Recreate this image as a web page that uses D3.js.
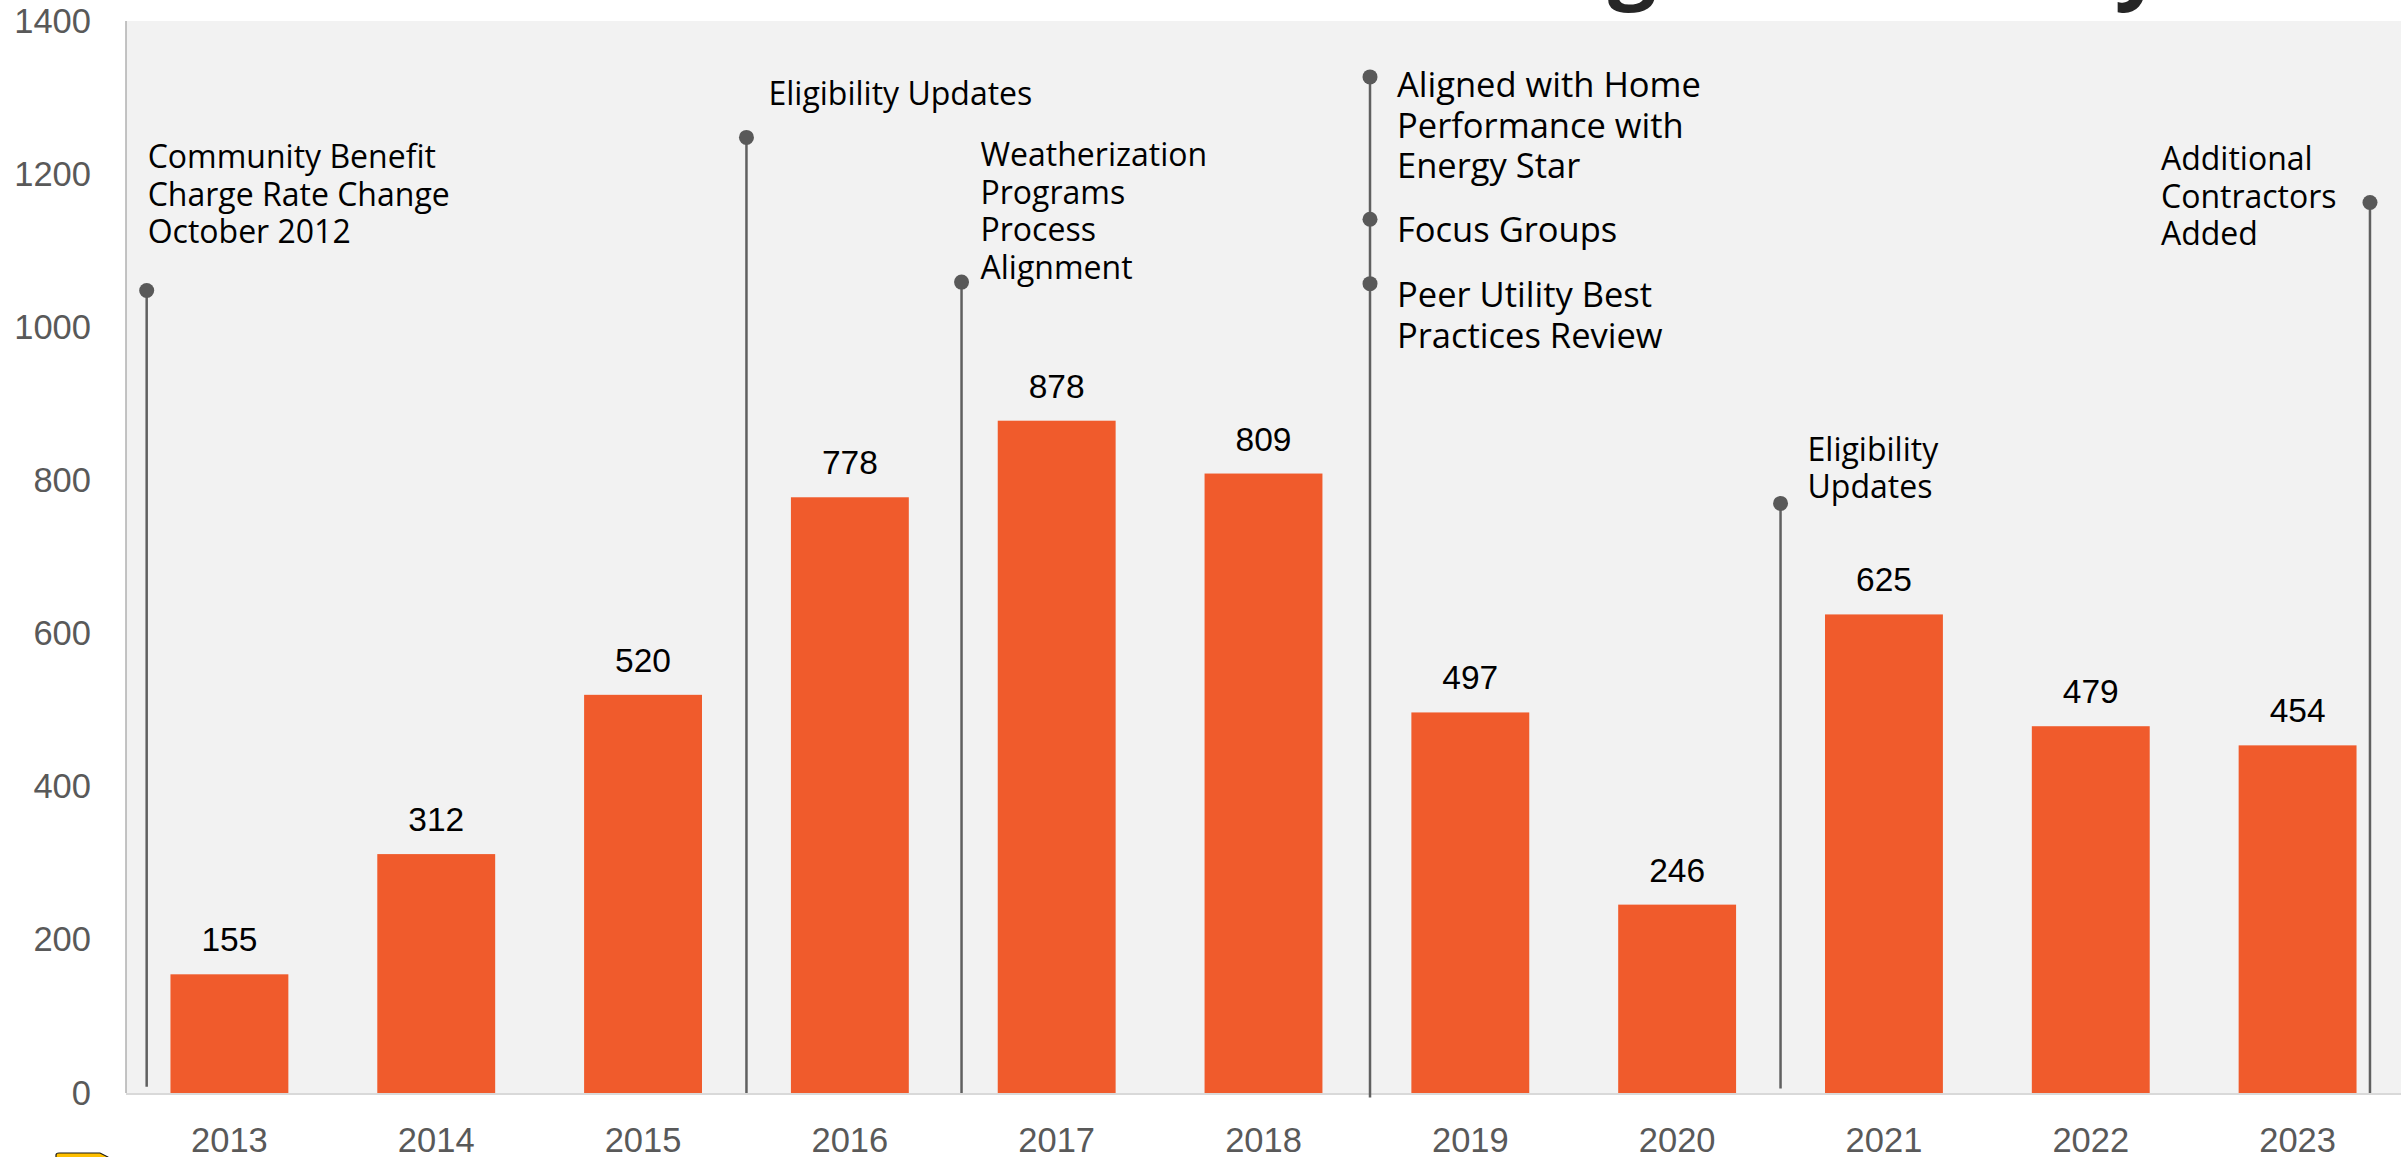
<!DOCTYPE html>
<html>
<head>
<meta charset="utf-8">
<script src="https://cdn.jsdelivr.net/npm/d3@7"></script>
<style>
  body { margin: 0; background: #fff; }
  svg { display: block; }
</style>
</head>
<body>
<div id="chart"></div>
<script>
// data
var years = ["2013", "2014", "2015", "2016", "2017", "2018", "2019", "2020", "2021", "2022", "2023"];
var counts = [155, 312, 520, 778, 878, 809, 497, 246, 625, 479, 454];
var yTicks = [0, 200, 400, 600, 800, 1000, 1200, 1400];
var title = "Weatherization Assistance Program History";

// timeline markers: position in category units, line bottom and top (y values)
var markerPos = [0.10, 3.0, 4.04, 6.015, 8.0, 10.85];
var markerBase = [8, 0, 0, -6, 6, 0];
var markerTop = [1048, 1248, 1059, 1327, 770, 1163];

// notes hung on the markers
var noteMarker = [0, 1, 2, 3, 3, 3, 4, 5];
var noteDot = [1048, 1248, 1059, 1327, 1141, 1057, 770, 1163];
var noteAt = [1208, 1290, 1210, 1301, 1111, 1026, 826, 1205];
var noteText = [
  ["Community Benefit", "Charge Rate Change", "October 2012"],
  ["Eligibility Updates"],
  ["Weatherization", "Programs", "Process", "Alignment"],
  ["Aligned with Home", "Performance with", "Energy Star"],
  ["Focus Groups"],
  ["Peer Utility Best", "Practices Review"],
  ["Eligibility", "Updates"],
  ["Additional", "Contractors", "Added"]
];
var noteDx = [1, 22, 19, 27, 27, 27, 27, -209];
var noteBig = [false, false, false, true, true, true, false, false];

var W = 2407, H = 1157;
var plot = { left: 126, right: 2401, top: 21, bottom: 1093 };
var axisFont = "'Liberation Sans', Arial, sans-serif";
var noteFont = "'Open Sans', sans-serif";

var svg = d3.select("#chart").append("svg")
    .attr("width", W)
    .attr("height", H);

// title, cut off by the top edge like in the slide: only the
// descenders of "g" and "y" show, so size it to hit those spots
var titleText = svg.append("text")
    .attr("x", 0)
    .attr("y", -200)
    .style("font-family", noteFont)
    .style("font-weight", "bold")
    .style("font-size", "100px")
    .style("fill", "#262626")
    .text(title);
var gi = title.indexOf("g"), yi = title.lastIndexOf("y");
function charMid(k) {
    var b = titleText.node().getExtentOfChar(k);
    return b.x + b.width / 2;
}
var fs = 100 * 507 / (charMid(yi) - charMid(gi));
titleText.style("font-size", fs + "px");
titleText
    .attr("x", 1632 - charMid(gi))
    .attr("y", 13 - 0.245 * fs);

var x = d3.scaleBand()
    .domain(years)
    .range([plot.left, plot.right])
    .paddingInner(0.43)
    .paddingOuter(0.215);

var xPos = d3.scaleLinear()
    .domain([0, years.length])
    .range([plot.left, plot.right]);

var y = d3.scaleLinear()
    .domain([0, 1400])
    .range([plot.bottom, plot.top]);

svg.insert("rect", "text")
    .attr("x", plot.left)
    .attr("y", plot.top)
    .attr("width", plot.right - plot.left)
    .attr("height", plot.bottom - plot.top)
    .attr("fill", "#f2f2f2");

// y axis labels
var yAxis = svg.append("g")
    .attr("transform", "translate(" + plot.left + ",0)")
    .call(d3.axisLeft(y).tickValues(yTicks).tickFormat(d3.format("d")).tickSize(0).tickPadding(35));
yAxis.select(".domain").remove();
yAxis.selectAll("text")
    .style("font-family", axisFont)
    .style("font-size", "34.5px")
    .style("fill", "#595959");

// x axis labels
var xAxis = svg.append("g")
    .attr("transform", "translate(0," + plot.bottom + ")")
    .call(d3.axisBottom(x).tickSize(0).tickPadding(35));
xAxis.select(".domain").remove();
xAxis.selectAll("text")
    .style("font-family", axisFont)
    .style("font-size", "34.5px")
    .style("fill", "#595959");

// bars
svg.append("g")
    .selectAll("rect")
    .data(counts)
    .enter()
    .append("rect")
    .attr("x", function (d, i) { return x(years[i]); })
    .attr("y", function (d) { return y(d); })
    .attr("width", x.bandwidth())
    .attr("height", function (d) { return y(0) - y(d); })
    .attr("fill", "#f05b2c");

// value labels
svg.append("g")
    .selectAll("text")
    .data(counts)
    .enter()
    .append("text")
    .attr("x", function (d, i) { return x(years[i]) + x.bandwidth() / 2; })
    .attr("y", function (d) { return y(d) - 23; })
    .attr("text-anchor", "middle")
    .style("font-family", axisFont)
    .style("font-size", "33.5px")
    .style("fill", "#000")
    .text(function (d) { return d; });

// axis lines
svg.append("line")
    .attr("x1", plot.left).attr("x2", plot.left)
    .attr("y1", plot.top).attr("y2", plot.bottom)
    .attr("stroke", "#b0b0b0").attr("stroke-width", 1.5);
svg.append("line")
    .attr("x1", plot.left).attr("x2", plot.right)
    .attr("y1", plot.bottom + 1).attr("y2", plot.bottom + 1)
    .attr("stroke", "#d9d9d9").attr("stroke-width", 2);

// marker lines
svg.append("g")
    .selectAll("line")
    .data(markerPos)
    .enter()
    .append("line")
    .attr("x1", function (d) { return xPos(d); })
    .attr("x2", function (d) { return xPos(d); })
    .attr("y1", function (d, i) { return y(markerBase[i]); })
    .attr("y2", function (d, i) { return y(markerTop[i]); })
    .attr("stroke", "#606060")
    .attr("stroke-width", 2.5);

// dots
svg.append("g")
    .selectAll("circle")
    .data(noteDot)
    .enter()
    .append("circle")
    .attr("cx", function (d, i) { return xPos(markerPos[noteMarker[i]]); })
    .attr("cy", function (d) { return y(d); })
    .attr("r", 7.5)
    .attr("fill", "#595959");

// notes
var notes = svg.append("g")
    .selectAll("text")
    .data(noteText)
    .enter()
    .append("text")
    .attr("x", function (d, i) { return xPos(markerPos[noteMarker[i]]) + noteDx[i]; })
    .attr("y", function (d, i) { return y(noteAt[i]); })
    .style("font-family", noteFont)
    .style("font-size", function (d, i) { return noteBig[i] ? "34.5px" : "32px"; })
    .style("fill", "#000");

notes.each(function (lines, i) {
    var t = d3.select(this);
    var step = noteBig[i] ? 40.7 : 37.5;
    lines.forEach(function (s, k) {
        t.append("tspan")
            .attr("x", t.attr("x"))
            .attr("y", +t.attr("y") + k * step)
            .text(s);
    });
});

// small yellow logo peeking in at the bottom left
svg.append("path")
    .attr("d", "M56,1158 L56,1155 Q56,1153 59,1153 L100,1153 L108,1157 L108,1158")
    .attr("fill", "#ffc000")
    .attr("stroke", "#1a1a1a")
    .attr("stroke-width", 1.2);
</script>
</body>
</html>
